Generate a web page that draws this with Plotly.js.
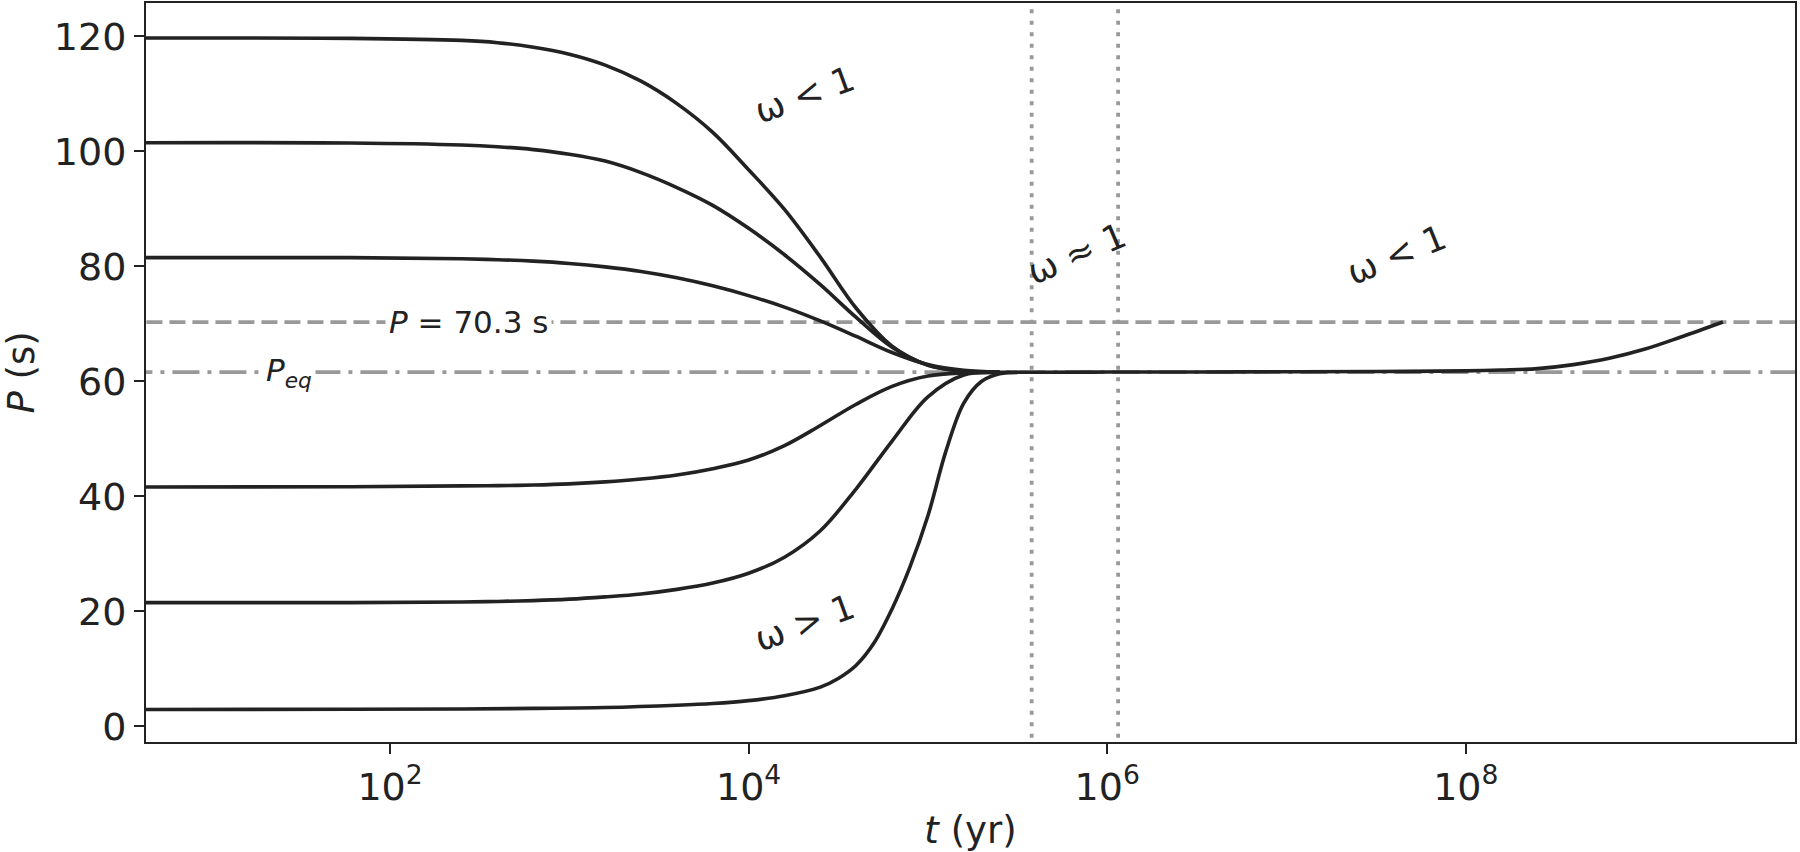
<!DOCTYPE html>
<html>
<head>
<meta charset="utf-8">
<script src="https://cdn.plot.ly/plotly-3.0.1.min.js"></script>
<style>html,body{margin:0;padding:0;background:#fff;}#chart{width:1800px;height:852px;}</style>
</head>
<body>
<div id="chart"></div>
<script>
// ---- data (t in yr, P in s) ----
// time samples shared by the five upper/middle tracks
const tGrid = [4, 60, 251, 398, 631, 1000, 1585, 2512, 3981, 6310, 1e4, 1.585e4, 2.512e4, 3.981e4, 6.31e4, 1e5, 1.585e5, 2.512e5];
const p1 = [119.7, 119.65, 119.3, 118.9, 118.1, 116.9, 115.0, 112.2, 108.3, 103.3, 96.8, 89.9, 81.6, 72.7, 66.1, 62.8, 61.75, 61.55];
const p2 = [101.5, 101.45, 101.1, 100.8, 100.3, 99.5, 98.3, 96.3, 93.7, 90.6, 86.6, 82.0, 76.8, 71.1, 65.9, 62.8, 61.75, 61.55];
const p3 = [81.5, 81.5, 81.3, 81.15, 80.9, 80.5, 79.9, 79.1, 78.0, 76.6, 74.9, 72.9, 70.5, 67.8, 65.0, 62.9, 61.9, 61.6];
const p4 = [41.6, 41.65, 41.8, 41.85, 41.95, 42.15, 42.5, 43.0, 43.7, 44.8, 46.3, 48.8, 52.3, 56.0, 59.1, 60.9, 61.45, 61.55];
const p5 = [21.5, 21.5, 21.6, 21.7, 21.85, 22.1, 22.5, 23.0, 23.8, 24.9, 26.6, 29.4, 34.0, 41.3, 49.6, 57.3, 61.1, 61.5];

// lowest track (steep rise)
const t6 = [4, 60, 251, 631, 1585, 3981, 6310, 1e4, 1.585e4, 2.512e4, 3.162e4, 3.981e4, 5.012e4, 6.31e4, 7.943e4, 1e5, 1.259e5, 1.585e5, 1.995e5, 2.512e5, 3.162e5];
const p6 = [2.9, 2.95, 3.0, 3.1, 3.25, 3.65, 3.95, 4.45, 5.3, 6.8, 8.3, 10.6, 14.5, 20.4, 27.7, 36.6, 47.8, 56.2, 60.0, 61.3, 61.55];

// common late-time branch after convergence
const tTail = [2.512e5, 3.981e5, 1e6, 3.162e6, 1e7, 3.162e7, 1e8, 1.585e8, 2.512e8, 3.981e8, 6.31e8, 1e9, 1.585e9, 2.716e9];
const pTail = [61.55, 61.58, 61.6, 61.62, 61.65, 61.7, 61.8, 61.95, 62.2, 62.9, 64.0, 65.6, 67.7, 70.3];

const P_obs = 70.3;         // dashed line
const P_eq = 61.6;          // dash-dot line
const tMarks = [3.79e5, 1.15e6];  // dotted vertical lines

const yTicks = [0, 20, 40, 60, 80, 100, 120];
const xTickVals = [1e2, 1e4, 1e6, 1e8];
const xTickText = ['10<sup>2</sup>', '10<sup>4</sup>', '10<sup>6</sup>', '10<sup>8</sup>'];

// ---- figure ----
const ink = '#222222';
const grey = '#999999';
const xSpan = [1, 1e10];
const ySpan = [-10, 140];

const traces = [];
traces.push({x: xSpan, y: [P_obs, P_obs], mode: 'lines', line: {color: grey, width: 3.8, dash: '16px,7px'}, hoverinfo: 'skip'});
traces.push({x: xSpan, y: [P_eq, P_eq], mode: 'lines', line: {color: grey, width: 3.8, dash: '27px,8px,4px,8px'}, hoverinfo: 'skip'});
tMarks.forEach(function (tm) {
  traces.push({x: [tm, tm], y: ySpan, mode: 'lines', line: {color: grey, width: 3.8, dash: '4px,7.5px'}, hoverinfo: 'skip'});
});
[[tGrid, p1], [tGrid, p2], [tGrid, p3], [tGrid, p4], [tGrid, p5], [t6, p6], [tTail, pTail]].forEach(function (c) {
  traces.push({x: c[0], y: c[1], mode: 'lines', line: {color: ink, width: 3.6, shape: 'spline', smoothing: 1}, hoverinfo: 'skip'});
});

const fam = 'DejaVu Sans, Noto Sans, sans-serif';
const lg = Math.log10;
function lab(text, t, p, ang, extra) {
  return Object.assign({x: lg(t), y: p, xref: 'x', yref: 'y', text: text, showarrow: false,
    textangle: ang, font: {family: fam, size: 35, color: ink}, xanchor: 'center', yanchor: 'middle'}, extra || {});
}

const layout = {
  width: 1800, height: 852,
  margin: {l: 146, r: 5, t: 3, b: 110},
  paper_bgcolor: '#ffffff', plot_bgcolor: '#ffffff',
  showlegend: false,
  font: {family: fam, color: ink},
  xaxis: {
    type: 'log', range: [0.639, 9.836],
    tickvals: xTickVals, ticktext: xTickText,
    ticks: 'outside', ticklen: 10, tickwidth: 2, tickcolor: ink,
    showline: true, linecolor: ink, linewidth: 2, mirror: true,
    showgrid: false, zeroline: false,
    tickfont: {family: fam, size: 38, color: ink},
    title: {text: '<i>t</i> (yr)', font: {family: fam, size: 37, color: ink}, standoff: 10}
  },
  yaxis: {
    range: [-2.75, 125.8],
    tickvals: yTicks,
    ticks: 'outside', ticklen: 10, tickwidth: 2, tickcolor: ink,
    showline: true, linecolor: ink, linewidth: 2, mirror: true,
    showgrid: false, zeroline: false,
    tickfont: {family: fam, size: 38, color: ink},
    title: {text: '<i>P</i> (s)', font: {family: fam, size: 37, color: ink}, standoff: 12}
  },
  annotations: [
    lab('ω &lt; 1', 2.04e4, 109.8, -20),
    lab('ω ≈ 1', 6.7e5, 82.2, -23),
    lab('ω &lt; 1', 4.08e7, 82.0, -22),
    lab('ω &gt; 1', 2.04e4, 18.0, -20),
    lab('<i>P</i> = 70.3 s', 275, 70.3, 0, {bgcolor: '#ffffff', borderpad: 3, font: {family: fam, size: 31, color: ink}}),
    lab('<i>P</i><sub><i>eq</i></sub>', 27.4, 61.6, 0, {bgcolor: '#ffffff', borderpad: 3, font: {family: fam, size: 31, color: ink}})
  ]
};

Plotly.newPlot('chart', traces, layout, {displayModeBar: false, staticPlot: true});
</script>
</body>
</html>
